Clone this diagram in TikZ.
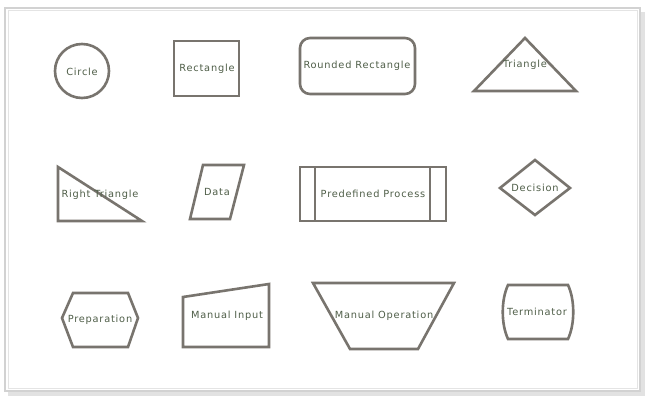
\documentclass[tikz,border=0pt]{standalone}
\usepackage{fontspec}
\setmainfont{DejaVu Sans}
\newfontfamily\lblfont{DejaVu Sans}[LetterSpace=8]
\definecolor{strokec}{HTML}{78746E}
\definecolor{txtc}{HTML}{4F5E48}
\definecolor{framec}{HTML}{D2D2D2}
\definecolor{shadowc}{HTML}{E2E2E2}
\begin{document}
\begin{tikzpicture}[x=1pt,y=-1pt,
  shp/.style={draw=strokec,line width=2.6pt,line join=miter},
  lbl/.style={text=txtc,font=\lblfont\fontsize{9.8}{11}\selectfont,inner sep=0pt}]
\useasboundingbox (0,0) rectangle (650,406);
% frame
\fill[shadowc] (8,12) rectangle (645,396);
\filldraw[fill=white,draw=framec,line width=2pt] (5,8) rectangle (640,391);
\draw[framec!60,line width=1pt] (8,11) rectangle (637,388);
% row 1
\draw[shp] (82,71) circle (27);
\node[lbl] (circle) at (82,72) {Circle};
\draw[shp] (174,41) rectangle (239,96);
\node[lbl] (rect) at (207,69) {Rectangle};
\draw[shp,rounded corners=10pt] (300,38) rectangle (415,94);
\node[lbl] (rrect) at (357,66) {Rounded Rectangle};
\draw[shp] (525,38) -- (576,91) -- (474,91) -- cycle;
\node[lbl] (tri) at (525,65) {Triangle};
% row 2
\draw[shp] (58,167) -- (142,221) -- (58,221) -- cycle;
\node[lbl] (rtri) at (100,195) {Right Triangle};
\draw[shp] (203,165) -- (244,165) -- (230,219) -- (190,219) -- cycle;
\node[lbl] (data) at (217,192) {Data};
\draw[shp] (300,167) rectangle (446,221);
\draw[shp] (315,167) -- (315,221);
\draw[shp] (430,167) -- (430,221);
\node[lbl] (pp) at (373,194) {Predefined Process};
\draw[shp] (535,160) -- (570,188) -- (535,215) -- (500,188) -- cycle;
\node[lbl] (dec) at (535,188) {Decision};
% row 3
\draw[shp] (73,293) -- (128,293) -- (138,318) -- (128,347) -- (73,347) -- (62,318) -- cycle;
\node[lbl] (prep) at (100,320) {Preparation};
\draw[shp] (183,297) -- (269,284) -- (269,347) -- (183,347) -- cycle;
\node[lbl] (mi) at (227,316) {Manual Input};
\draw[shp] (313,283) -- (454,283) -- (418,349) -- (350,349) -- cycle;
\node[lbl] (mo) at (384,316) {Manual Operation};
\draw[shp] (508,285) -- (568,285) .. controls (575,300) and (575,324) .. (568,339) -- (508,339) .. controls (501,324) and (501,300) .. (508,285) -- cycle;
\node[lbl] (term) at (537,312) {Terminator};
\end{tikzpicture}
\end{document}
